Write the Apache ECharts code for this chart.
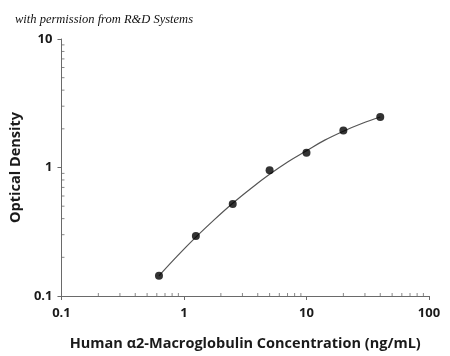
<!DOCTYPE html>
<html><head><meta charset="utf-8">
<script src="https://cdn.jsdelivr.net/npm/echarts@6/dist/echarts.min.js"></script>
<style>html,body{margin:0;padding:0;background:#fff}#c{width:450px;height:356px}</style>
</head><body><div id="c"></div>
<script>
// measured standard points
const concentrations = [0.625, 1.25, 2.5, 5, 10, 20, 40];
const opticalDensity = [0.144, 0.293, 0.519, 0.953, 1.30, 1.94, 2.47];
// fitted curve at intermediate concentrations
const curveX = [0.625, 0.884, 1.25, 1.77, 2.5, 3.54, 5, 7.07, 10, 14.1, 20, 28.3, 40];
const curveY = [0.1435, 0.205, 0.287, 0.393, 0.527, 0.690, 0.885, 1.109, 1.350, 1.633, 1.917, 2.200, 2.472];
const xMinorTicks = [0.2,0.3,0.4,0.5,0.6,0.7,0.8,0.9,2,3,4,5,6,7,8,9,20,30,40,50,60,70,80,90];
const yMinorTicks = [0.2,0.3,0.4,0.5,0.6,0.7,0.8,0.9,2,3,4,5,6,7,8,9];
const titleText = 'with permission from R&D Systems';
const xName = 'Human \u03b12-Macroglobulin Concentration (ng/mL)';
const yName = 'Optical Density';

const font = 'Open Sans';
const chart = echarts.init(document.getElementById('c'));
const axisCol = '#6a6a6a';
chart.setOption({
  backgroundColor: '#fff',
  animation: false,
  title: {text: titleText, left: 10, top: 8,
    textStyle: {fontFamily: 'Liberation Serif', fontStyle: 'italic', fontWeight: 'normal', fontSize: 12.5, color: '#111'}},
  grid: {left: 60.5, right: 21, top: 39, bottom: 59},
  xAxis: {type: 'log', logBase: 10, min: 0.1, max: 100,
    name: xName, nameLocation: 'middle', nameGap: 40,
    nameTextStyle: {fontFamily: font, fontWeight: 'bold', fontSize: 14.5, color: '#1a1a1a'},
    axisLine: {lineStyle: {color: axisCol, width: 1}},
    axisTick: {show: true, length: 4, lineStyle: {color: axisCol}},
    minorTick: {show: false},
    splitLine: {show: false},
    axisLabel: {margin: 11, fontFamily: font, fontWeight: 'bold', fontSize: 13, color: '#1a1a1a'}},
  yAxis: {type: 'log', logBase: 10, min: 0.1, max: 10,
    name: yName, nameLocation: 'middle', nameGap: 38, nameRotate: 90,
    nameTextStyle: {fontFamily: font, fontWeight: 'bold', fontSize: 14.5, color: '#1a1a1a'},
    axisLine: {show: true, lineStyle: {color: axisCol, width: 1}},
    axisTick: {show: true, length: 4, lineStyle: {color: axisCol}},
    minorTick: {show: false},
    splitLine: {show: false},
    axisLabel: {margin: 9, fontFamily: font, fontWeight: 'bold', fontSize: 13, color: '#1a1a1a'}},
  series: [
    {type: 'line', data: curveX.map((c, i) => [c, curveY[i]]),
      smooth: 0.4, showSymbol: false, lineStyle: {color: '#555', width: 1.2}, z: 2},
    {type: 'scatter', data: concentrations.map((c, i) => [c, opticalDensity[i]]),
      symbol: 'circle', symbolSize: 8, itemStyle: {color: '#000'}, z: 3},
    {type: 'scatter', data: xMinorTicks.map(v => [v, 0.1]), clip: false, silent: true,
      symbol: 'rect', symbolSize: [1, 3], symbolOffset: [0, -1.5], itemStyle: {color: axisCol}, z: 1},
    {type: 'scatter', data: yMinorTicks.map(v => [0.1, v]), clip: false, silent: true,
      symbol: 'rect', symbolSize: [3, 1], symbolOffset: [1.5, 0], itemStyle: {color: axisCol}, z: 1}
  ]
});
</script></body></html>
